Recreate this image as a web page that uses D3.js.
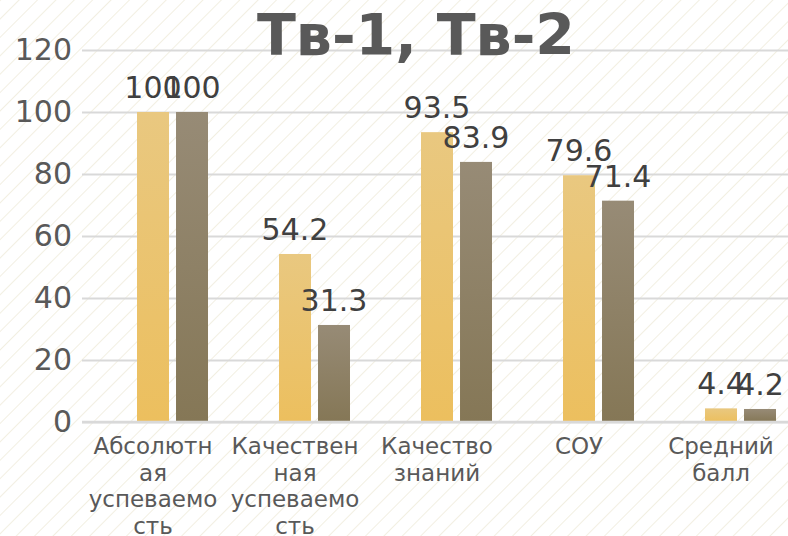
<!DOCTYPE html>
<html>
<head>
<meta charset="utf-8">
<script src="https://cdn.jsdelivr.net/npm/d3@7"></script>
<style>
  html, body { margin: 0; padding: 0; background: #fff; }
  svg { display: block; font-family: "DejaVu Sans", sans-serif; }
</style>
</head>
<body>
<svg id="chart" width="788" height="536"></svg>
<script>
// ── data ─────────────────────────────────────────────────────────────────────
const categories = ['Абсолютная успеваемость', 'Качественная успеваемость', 'Качество знаний', 'СОУ', 'Средний балл'];
// category labels wrapped the way the source chart breaks them
const categoryLines = [
  ['Абсолютн', 'ая', 'успеваемо', 'сть'],
  ['Качествен', 'ная', 'успеваемо', 'сть'],
  ['Качество', 'знаний'],
  ['СОУ'],
  ['Средний', 'балл']
];
const seriesNames = ['', 'Тв-1', 'Тв-2'];   // first slot is an empty series
const tv1Values = [100, 54.2, 93.5, 79.6, 4.4];
const tv2Values = [100, 31.3, 83.9, 71.4, 4.2];
const yTicks = [0, 20, 40, 60, 80, 100, 120];

// ── layout ───────────────────────────────────────────────────────────────────
const W = 788, H = 536;
const plot = { left: 82, right: 792, top: 50, bottom: 422 };
const textColor = '#595959';

const svg = d3.select('#chart');
const defs = svg.append('defs');

// diagonal-stripe background
const pat = defs.append('pattern')
  .attr('id', 'stripes')
  .attr('patternUnits', 'userSpaceOnUse')
  .attr('width', 13).attr('height', 13)
  .attr('patternTransform', 'rotate(45)');
pat.append('line')
  .attr('x1', 0).attr('y1', 0).attr('x2', 0).attr('y2', 13)
  .attr('stroke', '#ede8d6').attr('stroke-width', 1.4);

// bar gradients
function gradient(id, top, bottom) {
  const g = defs.append('linearGradient').attr('id', id)
    .attr('x1', 0).attr('y1', 0).attr('x2', 0).attr('y2', 1);
  g.append('stop').attr('offset', '0%').attr('stop-color', top);
  g.append('stop').attr('offset', '100%').attr('stop-color', bottom);
}
gradient('g1', '#e9c880', '#ecbf5e');
gradient('g2', '#978b76', '#857756');

svg.append('rect').attr('width', W).attr('height', H).attr('fill', '#fff');
svg.append('rect').attr('width', W).attr('height', H).attr('fill', 'url(#stripes)');

// ── scales ───────────────────────────────────────────────────────────────────
const x0 = d3.scaleBand().domain(categories).range([plot.left, plot.right]).padding(0);
const x1 = d3.scaleBand().domain(seriesNames).range([0, x0.bandwidth()])
  .paddingInner(0.18).paddingOuter(0.41);
const y = d3.scaleLinear().domain([0, 120]).range([plot.bottom, plot.top]);

// ── gridlines + y axis ───────────────────────────────────────────────────────
const yAxis = svg.append('g')
  .attr('transform', `translate(${plot.left},0)`)
  .call(d3.axisLeft(y).tickValues(yTicks).tickSize(-(W - plot.left)).tickPadding(10));
yAxis.select('.domain').remove();
yAxis.selectAll('.tick line').attr('stroke', '#d9d9d9').attr('stroke-width', 2);
yAxis.selectAll('.tick text')
  .attr('fill', textColor).attr('font-size', 30)
  .attr('font-family', '"DejaVu Sans", sans-serif');

// ── title ────────────────────────────────────────────────────────────────────
svg.append('text')
  .attr('x', 416).attr('y', 55)
  .attr('text-anchor', 'middle')
  .attr('font-size', 57).attr('font-weight', 'bold')
  .attr('fill', textColor)
  .text(seriesNames.slice(1).join(', '));

// ── bars ─────────────────────────────────────────────────────────────────────
const series = [
  { name: seriesNames[1], values: tv1Values, fill: 'url(#g1)' },
  { name: seriesNames[2], values: tv2Values, fill: 'url(#g2)' }
];

const groups = svg.append('g').selectAll('g')
  .data(series).join('g');

groups.selectAll('rect')
  .data(s => s.values.map((v, i) => ({ s, v, cat: categories[i] })))
  .join('rect')
  .attr('x', d => x0(d.cat) + x1(d.s.name))
  .attr('y', d => y(d.v))
  .attr('width', x1.bandwidth())
  .attr('height', d => y(0) - y(d.v))
  .attr('fill', d => d.s.fill);

// ── value labels ─────────────────────────────────────────────────────────────
groups.selectAll('text')
  .data(s => s.values.map((v, i) => ({ s, v, cat: categories[i] })))
  .join('text')
  .attr('x', d => x0(d.cat) + x1(d.s.name) + x1.bandwidth() / 2)
  .attr('y', d => y(d.v) - 14)
  .attr('text-anchor', 'middle')
  .attr('font-size', 30)
  .attr('fill', '#404040')
  .text(d => d.v);

// ── x axis line + category labels ────────────────────────────────────────────
svg.append('line')
  .attr('x1', plot.left).attr('x2', W)
  .attr('y1', y(0)).attr('y2', y(0))
  .attr('stroke', '#d9d9d9').attr('stroke-width', 2.5);

const catLabels = svg.append('g').selectAll('text')
  .data(categories).join('text')
  .attr('x', d => x0(d) + x0.bandwidth() / 2)
  .attr('y', 454)
  .attr('text-anchor', 'middle')
  .attr('font-size', 23)
  .attr('fill', textColor);

catLabels.selectAll('tspan')
  .data((d, i) => categoryLines[i])
  .join('tspan')
  .attr('x', function() { return this.parentNode.getAttribute('x'); })
  .attr('dy', (d, i) => i === 0 ? 0 : 26.5)
  .text(d => d);
</script>
</body>
</html>
